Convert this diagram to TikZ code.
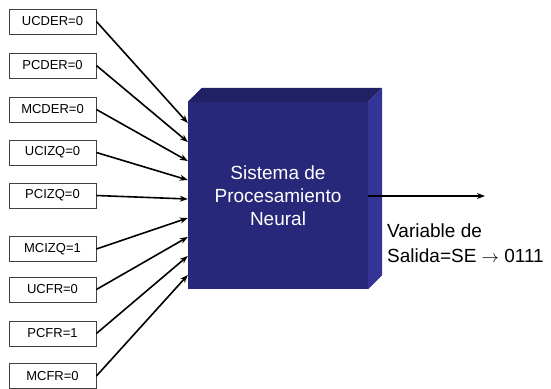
\documentclass[tikz,border=0pt]{standalone}
\usepackage{fontspec}
\setmainfont{Liberation Sans}
\setsansfont{Liberation Sans}
\usetikzlibrary{positioning,shapes,arrows.meta}

\definecolor{frente}{RGB}{40,40,122}
\definecolor{techo}{RGB}{32,32,100}
\definecolor{lado}{RGB}{52,52,150}

\tikzset{
    entrada/.style={draw=black!75, line width=0.8pt, minimum width=87pt, minimum height=25pt,
        inner sep=0pt, font=\fontsize{13}{15}\selectfont},
    flecha/.style={line width=1.6pt, -{Stealth[length=8pt,width=6pt]}},
    sistema/.style={fill=frente, minimum width=180pt, minimum height=187pt, inner sep=0pt,
        text=white, align=center, font=\fontsize{19}{23}\selectfont}
}

\begin{document}
\begin{tikzpicture}[x=1pt, y=-1pt]
    \useasboundingbox (0,0) rectangle (551,388);

    % entradas
    \node[entrada] (ucder) at (52.5, 21.5) {UCDER=0};
    \node[entrada] (pcder) at (52.5, 65.5) {PCDER=0};
    \node[entrada] (mcder) at (52.5, 109.5) {MCDER=0};
    \node[entrada] (ucizq) at (52.5, 152.5) {UCIZQ=0};
    \node[entrada] (pcizq) at (52.5, 195.5) {PCIZQ=0};
    \node[entrada] (mcizq) at (52.5, 249) {MCIZQ=1};
    \node[entrada] (ucfr) at (52.5, 289.5) {UCFR=0};
    \node[entrada] (pcfr) at (52.5, 333.5) {PCFR=1};
    \node[entrada] (mcfr) at (52.5, 376) {MCFR=0};

    % caja
    \node[sistema] (sne) at (278, 195.5) {Sistema de\\Procesamiento\\Neural};
    \fill[techo] (sne.north west) -- ++(14,-14) -- ([shift={(14,-14)}]sne.north east)
        -- (sne.north east) -- cycle;
    \fill[lado] (sne.north east) -- ++(14,-14) -- ([shift={(14,-14)}]sne.south east)
        -- (sne.south east) -- cycle;

    \foreach \n/\y in {ucder/123, pcder/142, mcder/161, ucizq/180, pcizq/199,
        mcizq/218, ucfr/237, pcfr/256, mcfr/275}
        \draw[flecha] (\n.east) -- (sne.west |- 0,\y);

    % salida
    \coordinate (fin) at (485, 196);
    \draw[flecha] (sne.east |- fin) -- (fin);
    \node[anchor=north west, align=left, inner sep=0pt, font=\fontsize{19}{25}\selectfont]
        (salida) at (387, 224) {Variable de\\Salida=SE {\fontsize{16}{16}\selectfont$\rightarrow$} 0111};
\end{tikzpicture}
\end{document}
